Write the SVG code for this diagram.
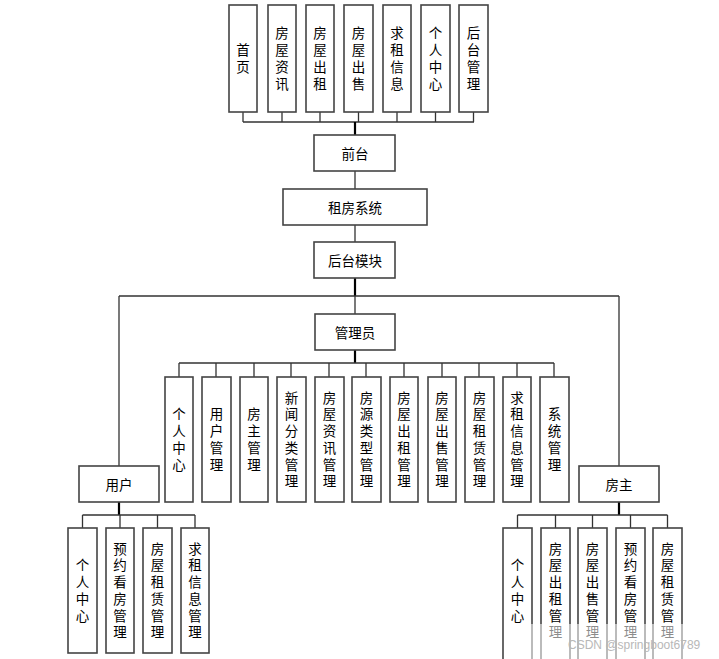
<svg xmlns="http://www.w3.org/2000/svg" width="719" height="659" viewBox="0 0 719 659">
<style>
.box{fill:#fff;stroke:#444;stroke-width:1.6}
.t{font-family:"Noto Sans CJK SC","Liberation Sans",sans-serif;font-size:13.5px;fill:#000;text-anchor:middle;dominant-baseline:central}
.v{font-family:"Noto Sans CJK SC","Liberation Sans",sans-serif;font-size:13.5px;fill:#000;text-anchor:middle;writing-mode:vertical-rl;letter-spacing:3.2px}
.ln{fill:none;stroke:#333;stroke-width:1.3}
.bold{fill:none;stroke:#000;stroke-width:2.2}
.wm{font-family:"Liberation Sans",sans-serif;font-size:12px;fill:#b8b8b8}
</style>
<rect width="719" height="659" fill="#fff"/>
<g id="connectors">
<path class="ln" d="M243 112V122M282 112V122M320 112V122M358.5 112V122M397 112V122M435.5 112V122M473.5 112V122M243 122H474"/>
<path class="bold" d="M355 122V135"/>
<path class="ln" d="M355 171V189M355 225V242"/>
<path class="bold" d="M355 278V296"/>
<path class="ln" d="M119 296H619M119 296V466M619 296V466M355 296V314"/>
<path class="bold" d="M355 350V363"/>
<path class="ln" d="M179 363H554M179 363V377M216 363V377M254 363V377M291 363V377M329 363V377M366 363V377M404 363V377M442 363V377M479 363V377M517 363V377M554 363V377"/>
<path class="bold" d="M119 502V515M619 502V515"/>
<path class="ln" d="M82.5 515H195M82.5 515V528M120 515V528M157.5 515V528M195 515V528"/>
<path class="ln" d="M517.5 515H667.5M517.5 515V528M555.5 515V528M592.5 515V528M630.5 515V528M667.5 515V528"/>
</g>
<g id="n_home"><rect class="box" x="229" y="5" width="28" height="107"/><text class="v" x="243" y="60">首页</text></g>
<g id="n_news"><rect class="box" x="268" y="5" width="28" height="107"/><text class="v" x="282" y="60">房屋资讯</text></g>
<g id="n_rent"><rect class="box" x="306" y="5" width="28" height="107"/><text class="v" x="320" y="60">房屋出租</text></g>
<g id="n_sale"><rect class="box" x="344" y="5" width="29" height="107"/><text class="v" x="358.5" y="60">房屋出售</text></g>
<g id="n_want"><rect class="box" x="383" y="5" width="28" height="107"/><text class="v" x="397" y="60">求租信息</text></g>
<g id="n_me"><rect class="box" x="421" y="5" width="29" height="107"/><text class="v" x="435.5" y="60">个人中心</text></g>
<g id="n_admin"><rect class="box" x="459" y="5" width="29" height="107"/><text class="v" x="473.5" y="60">后台管理</text></g>
<g id="n_front"><rect class="box" x="314" y="135" width="81" height="36"/><text class="t" x="355" y="153">前台</text></g>
<g id="n_sys"><rect class="box" x="283" y="189" width="144" height="36"/><text class="t" x="355" y="207">租房系统</text></g>
<g id="n_back"><rect class="box" x="314" y="242" width="81" height="36"/><text class="t" x="355" y="260">后台模块</text></g>
<g id="n_mgr"><rect class="box" x="315" y="314" width="80" height="36"/><text class="t" x="355" y="332">管理员</text></g>
<g id="n_user"><rect class="box" x="79" y="466" width="80" height="36"/><text class="t" x="119" y="484">用户</text></g>
<g id="n_owner"><rect class="box" x="579" y="466" width="80" height="36"/><text class="t" x="619" y="484">房主</text></g>
<g id="m1"><rect class="box" x="165" y="377" width="28" height="125"/><text class="v" x="179" y="441">个人中心</text></g>
<g id="m2"><rect class="box" x="202" y="377" width="29" height="125"/><text class="v" x="216.5" y="441">用户管理</text></g>
<g id="m3"><rect class="box" x="240" y="377" width="28" height="125"/><text class="v" x="254" y="441">房主管理</text></g>
<g id="m4"><rect class="box" x="277" y="377" width="29" height="125"/><text class="v" x="291.5" y="441">新闻分类管理</text></g>
<g id="m5"><rect class="box" x="315" y="377" width="29" height="125"/><text class="v" x="329.5" y="441">房屋资讯管理</text></g>
<g id="m6"><rect class="box" x="352" y="377" width="29" height="125"/><text class="v" x="366.5" y="441">房源类型管理</text></g>
<g id="m7"><rect class="box" x="390" y="377" width="28" height="125"/><text class="v" x="404" y="441">房屋出租管理</text></g>
<g id="m8"><rect class="box" x="428" y="377" width="28" height="125"/><text class="v" x="442" y="441">房屋出售管理</text></g>
<g id="m9"><rect class="box" x="465" y="377" width="29" height="125"/><text class="v" x="479.5" y="441">房屋租赁管理</text></g>
<g id="m10"><rect class="box" x="503" y="377" width="28" height="125"/><text class="v" x="517" y="441">求租信息管理</text></g>
<g id="m11"><rect class="box" x="540" y="377" width="29" height="125"/><text class="v" x="554.5" y="441">系统管理</text></g>
<g id="u1"><rect class="box" x="68" y="528" width="29" height="125"/><text class="v" x="82.5" y="592">个人中心</text></g>
<g id="u2"><rect class="box" x="106" y="528" width="28" height="125"/><text class="v" x="120" y="592">预约看房管理</text></g>
<g id="u3"><rect class="box" x="143" y="528" width="29" height="125"/><text class="v" x="157.5" y="592">房屋租赁管理</text></g>
<g id="u4"><rect class="box" x="181" y="528" width="28" height="125"/><text class="v" x="195" y="592">求租信息管理</text></g>
<g id="o1"><rect class="box" x="503" y="528" width="29" height="140"/><text class="v" x="517.5" y="592">个人中心</text></g>
<g id="o2"><rect class="box" x="541" y="528" width="29" height="140"/><text class="v" x="555.5" y="592">房屋出租管理</text></g>
<g id="o3"><rect class="box" x="578" y="528" width="29" height="140"/><text class="v" x="592.5" y="592">房屋出售管理</text></g>
<g id="o4"><rect class="box" x="616" y="528" width="29" height="140"/><text class="v" x="630.5" y="592">预约看房管理</text></g>
<g id="o5"><rect class="box" x="653" y="528" width="29" height="140"/><text class="v" x="667.5" y="592">房屋租赁管理</text></g>
<rect x="505" y="624" width="190" height="35" fill="#fff" opacity="0.55"/>
<text class="wm" x="568" y="649">CSDN @springboot6789</text>
</svg>
